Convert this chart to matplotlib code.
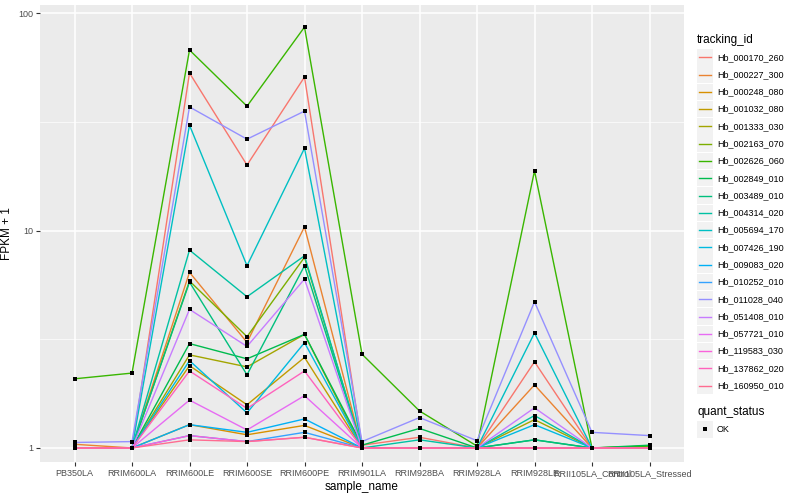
import numpy as np
import matplotlib.pyplot as plt
from matplotlib.lines import Line2D
from matplotlib.patches import Rectangle

plt.rcParams['font.family'] = ['Liberation Sans', 'DejaVu Sans']

# 样本名称
samples = ['PB350LA', 'RRIM600LA', 'RRIM600LE', 'RRIM600SE', 'RRIM600PE', 'RRIM901LA',
           'RRIM928BA', 'RRIM928LA', 'RRIM928LE', 'RRII105LA_Control', 'RRII105LA_Stressed']

# 基因 id
tracking_ids = ['Hb_000170_260', 'Hb_000227_300', 'Hb_000248_080', 'Hb_001032_080',
                'Hb_001333_030', 'Hb_002163_070', 'Hb_002626_060', 'Hb_002849_010',
                'Hb_003489_010', 'Hb_004314_020', 'Hb_005694_170', 'Hb_007426_190',
                'Hb_009083_020', 'Hb_010252_010', 'Hb_011028_040', 'Hb_051408_010',
                'Hb_057721_010', 'Hb_119583_030', 'Hb_137862_020', 'Hb_160950_010']

# FPKM + 1，每个基因一行
fpkm1 = [
    [1.00, 1.00, 53.0, 20.0, 50.8, 1.03, 1.12, 1.00, 2.49, 1.00, 1.00],
    [1.04, 1.00, 6.42, 3.06, 10.4, 1.00, 1.00, 1.00, 1.95, 1.00, 1.02],
    [1.00, 1.00, 1.28, 1.15, 1.27, 1.00, 1.00, 1.00, 1.00, 1.00, 1.00],
    [1.00, 1.00, 2.39, 1.58, 2.61, 1.00, 1.00, 1.00, 1.00, 1.00, 1.00],
    [1.00, 1.00, 2.68, 2.36, 3.33, 1.00, 1.00, 1.00, 1.35, 1.00, 1.00],
    [1.00, 1.00, 5.86, 3.25, 7.53, 1.00, 1.00, 1.00, 1.00, 1.00, 1.00],
    [2.08, 2.21, 67.6, 37.3, 86.2, 2.70, 1.48, 1.02, 18.8, 1.00, 1.02],
    [1.00, 1.00, 3.02, 2.57, 3.33, 1.03, 1.23, 1.00, 1.09, 1.00, 1.03],
    [1.00, 1.00, 5.79, 2.17, 6.89, 1.00, 1.00, 1.00, 1.09, 1.00, 1.00],
    [1.00, 1.00, 8.13, 4.96, 7.65, 1.00, 1.09, 1.00, 1.41, 1.00, 1.00],
    [1.00, 1.00, 30.5, 6.89, 23.9, 1.00, 1.00, 1.00, 3.38, 1.00, 1.00],
    [1.00, 1.00, 2.52, 1.45, 3.05, 1.00, 1.00, 1.00, 1.28, 1.00, 1.00],
    [1.00, 1.00, 1.28, 1.18, 1.36, 1.00, 1.00, 1.00, 1.00, 1.00, 1.00],
    [1.00, 1.00, 1.14, 1.07, 1.18, 1.00, 1.00, 1.00, 1.00, 1.00, 1.00],
    [1.06, 1.07, 37.0, 26.3, 35.4, 1.07, 1.38, 1.08, 4.70, 1.18, 1.14],
    [1.00, 1.00, 4.34, 2.93, 5.98, 1.00, 1.00, 1.00, 1.53, 1.00, 1.00],
    [1.00, 1.00, 1.66, 1.21, 1.74, 1.00, 1.00, 1.00, 1.00, 1.00, 1.00],
    [1.00, 1.00, 1.14, 1.07, 1.12, 1.00, 1.00, 1.00, 1.00, 1.00, 1.00],
    [1.00, 1.00, 2.26, 1.52, 2.26, 1.00, 1.00, 1.00, 1.00, 1.00, 1.00],
    [1.00, 1.00, 1.09, 1.07, 1.12, 1.00, 1.00, 1.00, 1.00, 1.00, 1.00],
]

# ggplot2 默认色相调色板 (20 色)
colors = ['#F8766D', '#EA8331', '#D89000', '#C09B00', '#A3A500', '#7CAE00', '#39B600',
          '#00BB4E', '#00BF7D', '#00C1A3', '#00BFC4', '#00BAE0', '#00B0F6', '#35A2FF',
          '#9590FF', '#C77CFF', '#E76BF3', '#FA62DB', '#FF62BC', '#FF6C91']

fig = plt.figure(figsize=(8, 5), dpi=100)
W, H = 800, 500
ax = fig.add_axes([40 / W, 1 - 462 / H, 644 / W, 457 / H])
ax.set_facecolor('#EBEBEB')

x = np.arange(len(samples))
for vals, col in zip(fpkm1, colors):
    ax.plot(x, vals, color=col, lw=1.0, zorder=2)
for vals in fpkm1:
    ax.plot(x, vals, 's', color='black', ms=2.6, mew=0, zorder=3)

ax.set_yscale('log')
ax.set_ylim(0.862, 108.9)
ax.set_xlim(-0.6, 10.6)
ax.set_yticks([1, 10, 100])
ax.set_yticklabels(['1', '10', '100'])
ax.set_yticks([10 ** 0.5, 10 ** 1.5], minor=True)
ax.yaxis.set_minor_formatter(plt.NullFormatter())
ax.set_xticks(x)
ax.set_xticklabels(samples)

ax.grid(True, which='major', color='white', lw=1.1, zorder=0)
ax.grid(True, which='minor', axis='y', color='white', lw=0.5, zorder=0)
ax.set_axisbelow(True)
for s in ax.spines.values():
    s.set_visible(False)
ax.tick_params(axis='both', which='major', length=3, width=0.8, color='#333333',
               labelsize=6.5, labelcolor='#4D4D4D', pad=2)
ax.tick_params(axis='y', which='minor', length=0)
ax.set_xlabel('sample_name', fontsize=8.5, labelpad=2)
ax.set_ylabel('FPKM + 1', fontsize=8.5, labelpad=4)

# 图例: tracking_id
fig.text(697 / W, 1 - 40 / H, 'tracking_id', fontsize=8.5, va='center', ha='left')
key_h = 17.28
for i, (name, col) in enumerate(zip(tracking_ids, colors)):
    yc = 57.3 + i * key_h
    fig.add_artist(Rectangle((697 / W, 1 - (yc + 8.2) / H), 16 / W, 16.4 / H,
                             transform=fig.transFigure, color='#F2F2F2', lw=0))
    fig.add_artist(Line2D([699 / W, 711 / W], [1 - yc / H, 1 - yc / H],
                          transform=fig.transFigure, color=col, lw=1.0))
    fig.text(717 / W, 1 - yc / H, name, fontsize=6.5, va='center', ha='left')

# 图例: quant_status
fig.text(697 / W, 1 - 412 / H, 'quant_status', fontsize=8.5, va='center', ha='left')
fig.add_artist(Rectangle((697 / W, 1 - (429.3 + 8.2) / H), 16 / W, 16.4 / H,
                         transform=fig.transFigure, color='#F2F2F2', lw=0))
fig.add_artist(Line2D([705 / W], [1 - 429.3 / H], transform=fig.transFigure,
                      marker='s', color='black', ms=2.6, mew=0, ls='none'))
fig.text(717 / W, 1 - 429.3 / H, 'OK', fontsize=6.5, va='center', ha='left')

fig.savefig('out.png', dpi=100)
